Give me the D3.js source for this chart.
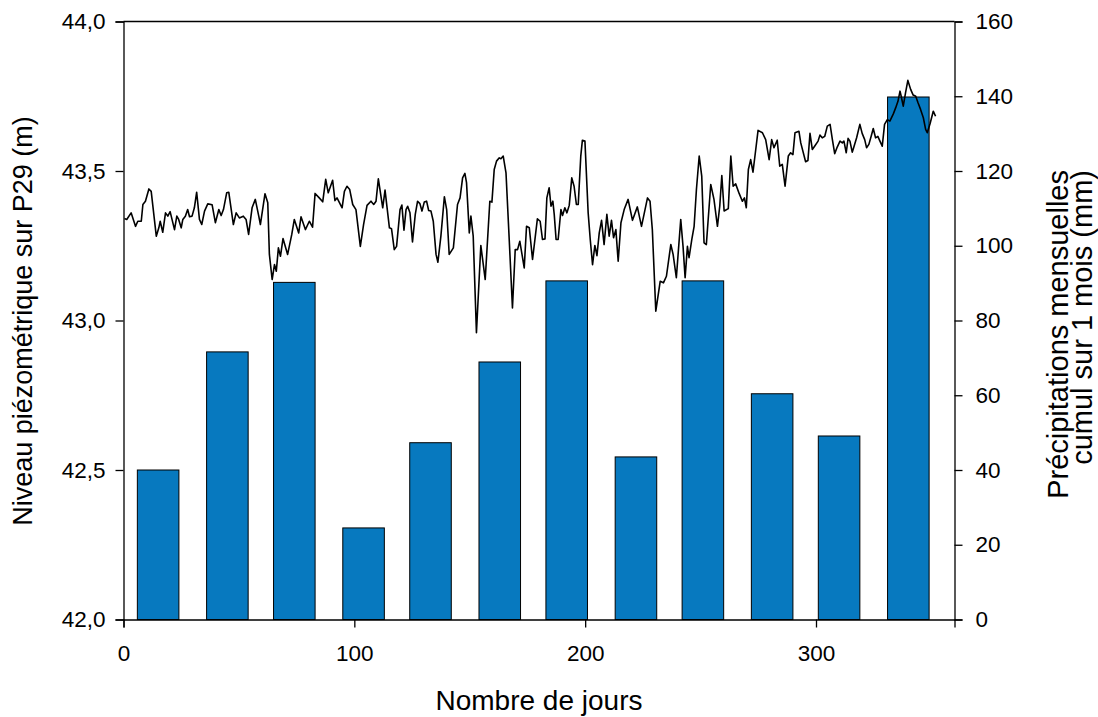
<!DOCTYPE html>
<html>
<head>
<meta charset="utf-8">
<script src="https://cdn.jsdelivr.net/npm/d3@7"></script>
<style>
  html, body { margin: 0; padding: 0; background: #ffffff; }
  svg { display: block; font-family: "Liberation Sans", Arial, sans-serif; }
</style>
</head>
<body>
<svg id="chart" width="1098" height="717"></svg>
<script>
// ---- Data ----
const xTicks = [0, 100, 200, 300];
const leftTicks = [42.0, 42.5, 43.0, 43.5, 44.0];
const rightTicks = [0, 20, 40, 60, 80, 100, 120, 140, 160];

// monthly precipitation bars (day centre, mm)
const barDays = [15, 45, 74, 104, 133, 163, 192, 222, 251, 281, 310, 340];
const barValues = [40.0, 71.6, 90.2, 24.5, 47.3, 68.9, 90.6, 43.5, 90.6, 60.4, 49.1, 139.8];
const barWidthDays = 18;

// piezometric level trace (day, m)
const lineDays = [
0.4,1.4,3.3,5.2,6.2,7.7,8.4,9.5,11.0,12.0,14.2,15.3,15.9,17.0,18.2,19.2,20.2,22.1,23.1,23.9,25.0,25.7,26.8,27.8,28.6,29.7,30.7,31.7,32.9,33.9,35.1,36.5,38.4,39.8,41.3,42.3,43.3,44.7,45.6,47.6,48.8,50.2,51.9,53.1,54.2,55.7,57.1,58.6,
59.3,61.3,62.5,63.2,64.4,65.4,66.2,67.1,68.0,69.1,71.1,72.9,74.0,75.9,76.9,78.8,80.5,81.9,83.0,84.8,86.3,87.6,88.7,90.6,91.6,92.5,94.7,95.7,96.8,98.0,99.3,100.7,102.6,104.0,105.5,107.2,108.4,109.4,110.4,112.3,113.3,115.2,116.1,117.3,
118.3,119.8,120.6,121.5,122.4,123.1,124.1,125.2,126.4,127.4,128.4,129.3,130.3,131.3,132.2,133.2,134.2,135.4,136.2,137.5,139.0,140.0,141.1,142.9,144.7,145.8,146.9,147.9,148.6,149.8,150.5,151.5,152.9,154.8,156.7,158.7,159.6,160.6,161.6,162.8,163.5,164.5,165.7,167.1,168.5,169.7,170.7,171.7,173.6,174.6,
175.8,177.2,179.3,180.5,181.5,182.6,183.4,184.4,185.2,186.0,186.6,187.4,188.3,189.5,190.2,191.2,192.1,193.1,194.2,195.2,196.2,197.0,198.1,198.8,199.9,201.3,202.2,203.2,204.2,205.1,206.1,207.1,208.2,209.4,210.4,211.4,212.3,213.3,214.3,215.5,216.9,218.6,220.5,222.6,224.4,225.5,227.0,228.1,229.1,230.6,232.5,233.9,
235.2,237.1,238.1,239.5,241.4,242.4,243.3,244.3,245.0,246.2,247.2,248.2,249.4,250.5,251.5,252.5,254.4,255.8,257.3,258.3,259.2,260.2,262.0,263.1,264.1,265.2,266.7,268.1,269.0,269.8,270.7,271.7,272.7,273.9,274.9,276.8,278.2,279.7,280.8,281.8,283.2,284.3,285.4,286.6,288.0,289.0,290.0,290.9,292.6,
293.4,295.5,296.5,297.4,298.4,299.4,300.9,301.7,302.7,303.8,304.9,306.1,307.1,308.1,309.2,310.4,311.4,312.1,313.1,313.9,314.7,315.7,316.5,317.6,319.0,320.0,321.1,321.9,322.9,323.9,324.8,325.8,326.8,327.7,328.7,329.7,330.9,332.0,333.5,334.5,335.5,336.4,336.9,337.8,338.8,339.8,341.0,342.1,343.2,344.2,345.3,346.5,347.5,348.2,349.4,350.8,351.8
];
const lineLevels = [
43.341,43.338,43.360,43.315,43.332,43.332,43.388,43.399,43.440,43.432,43.282,43.310,43.332,43.295,43.360,43.349,43.364,43.304,43.349,43.338,43.310,43.338,43.349,43.371,43.347,43.349,43.377,43.429,43.338,43.321,43.366,43.390,43.387,43.327,43.371,43.351,43.371,43.427,43.429,43.321,43.360,43.343,43.349,43.338,43.288,43.377,43.405,43.349,
43.321,43.424,43.394,43.221,43.137,43.187,43.165,43.243,43.215,43.274,43.221,43.288,43.338,43.293,43.347,43.304,43.332,43.312,43.425,43.410,43.397,43.472,43.427,43.469,43.401,43.410,43.377,43.432,43.449,43.438,43.388,43.371,43.248,43.321,43.385,43.399,43.388,43.399,43.474,43.377,43.436,43.310,43.307,43.237,
43.248,43.371,43.386,43.302,43.371,43.382,43.360,43.263,43.355,43.399,43.391,43.366,43.396,43.399,43.368,43.366,43.332,43.221,43.195,43.282,43.414,43.371,43.221,43.243,43.388,43.410,43.477,43.492,43.461,43.293,43.349,43.282,42.959,43.251,43.137,43.399,43.396,43.505,43.533,43.544,43.541,43.550,43.494,43.271,43.042,43.237,43.237,43.265,43.176,43.315,
43.310,43.204,43.340,43.332,43.271,43.273,43.410,43.444,43.382,43.399,43.355,43.271,43.271,43.371,43.351,43.377,43.360,43.385,43.477,43.449,43.388,43.388,43.550,43.603,43.600,43.360,43.271,43.187,43.251,43.217,43.293,43.335,43.254,43.355,43.282,43.335,43.277,43.304,43.198,43.327,43.371,43.405,43.335,43.380,43.315,43.355,43.410,43.399,43.304,43.031,43.131,43.126,
43.148,43.254,43.221,43.143,43.338,43.248,43.143,43.248,43.210,43.271,43.315,43.438,43.550,43.483,43.260,43.254,43.455,43.405,43.315,43.382,43.485,43.366,43.374,43.550,43.449,43.457,43.425,43.399,43.410,43.377,43.505,43.538,43.496,43.572,43.636,43.628,43.605,43.538,43.605,43.578,43.603,43.516,43.522,43.449,43.550,43.561,43.555,43.628,43.633,
43.594,43.531,43.535,43.626,43.572,43.583,43.600,43.620,43.611,43.616,43.650,43.656,43.605,43.558,43.580,43.600,43.594,43.600,43.561,43.609,43.600,43.563,43.583,43.611,43.656,43.626,43.605,43.578,43.589,43.616,43.642,43.611,43.616,43.600,43.583,43.656,43.672,43.667,43.691,43.711,43.733,43.767,43.750,43.717,43.762,43.803,43.773,43.754,43.750,43.728,43.706,43.678,43.639,43.628,43.658,43.700,43.683
];

// ---- Layout ----
const mLeft = 123.5, mRight = 954.5, mTop = 21.5, mBottom = 619.5;
const svg = d3.select("#chart");

const x = d3.scaleLinear().domain([0, 360]).range([mLeft, mRight]);
const yL = d3.scaleLinear().domain([42, 44]).range([mBottom, mTop]);
const yR = d3.scaleLinear().domain([0, 160]).range([mBottom, mTop]);

const commaFmt = v => d3.format(".1f")(v).replace(".", ",");

// Bars
const bars = barDays.map((d, i) => ({ day: d, v: barValues[i] }));
svg.append("g").selectAll("rect").data(bars).join("rect")
  .attr("x", d => x(d.day - barWidthDays / 2))
  .attr("width", d => x(d.day + barWidthDays / 2) - x(d.day - barWidthDays / 2))
  .attr("y", d => yR(d.v))
  .attr("height", d => yR(0) - yR(d.v))
  .attr("fill", "#0779bf")
  .attr("stroke", "#000")
  .attr("stroke-width", 1);

// Line
const n = Math.min(lineDays.length, lineLevels.length);
const pts = d3.range(n).map(i => [lineDays[i], lineLevels[i]]);
svg.append("path")
  .datum(pts)
  .attr("fill", "none")
  .attr("stroke", "#000")
  .attr("stroke-width", 1.6)
  .attr("stroke-linejoin", "round")
  .attr("d", d3.line().x(d => x(d[0])).y(d => yL(d[1])));

// Axes
const tickFont = g => g.selectAll("text").attr("font-size", 22.5).attr("fill", "#000")
  .attr("font-family", "Liberation Sans, Arial, sans-serif");

const gx = svg.append("g").attr("transform", `translate(0,${mBottom})`)
  .call(d3.axisBottom(x).tickValues(xTicks).tickSize(8).tickPadding(17.5).tickFormat(d3.format("d")));
gx.call(tickFont);

const gl = svg.append("g").attr("transform", `translate(${mLeft},0)`)
  .call(d3.axisLeft(yL).tickValues(leftTicks).tickSize(8).tickPadding(10).tickFormat(commaFmt));
gl.call(tickFont);

const gr = svg.append("g").attr("transform", `translate(${mRight},0)`)
  .call(d3.axisRight(yR).tickValues(rightTicks).tickSize(8).tickPadding(13).tickFormat(d3.format("d")));
gr.call(tickFont);

[gx, gl, gr].forEach(g => {
  g.select(".domain").attr("stroke", "#000").attr("stroke-width", 1.3);
  g.selectAll(".tick line").attr("stroke", "#000").attr("stroke-width", 1.3);
});

// top frame
svg.append("line").attr("x1", mLeft).attr("x2", mRight).attr("y1", mTop).attr("y2", mTop)
  .attr("stroke", "#000").attr("stroke-width", 1.3);

// Titles
svg.append("text").attr("x", (mLeft + mRight) / 2).attr("y", 710)
  .attr("text-anchor", "middle").attr("font-size", 28).text("Nombre de jours");

svg.append("text").attr("transform", "translate(32,321) rotate(-90)")
  .attr("text-anchor", "middle").attr("font-size", 27).text("Niveau piézométrique sur P29 (m)");

svg.append("text").attr("transform", "translate(1068,170) rotate(-90)")
  .attr("text-anchor", "end").attr("font-size", 29).text("Précipitations mensuelles");
svg.append("text").attr("transform", "translate(1092,170) rotate(-90)")
  .attr("text-anchor", "end").attr("font-size", 29).text("cumul sur 1 mois (mm)");
</script>
</body>
</html>
